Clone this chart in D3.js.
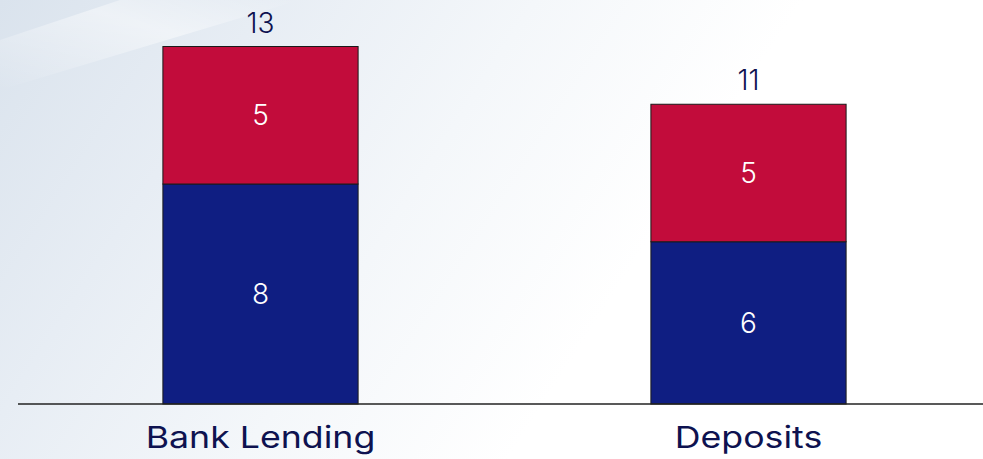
<!DOCTYPE html>
<html><head><meta charset="utf-8">
<script src="https://cdn.jsdelivr.net/npm/d3@7"></script>
<style>html,body{margin:0;padding:0;background:#fff;}svg{display:block;}</style>
</head><body>
<svg id="c" width="983" height="459"></svg>
<script>
const categories = ["Bank Lending", "Deposits"];
const seriesNames = ["Base", "Additional"];
const baseValues = [8, 5.9];
const addValues = [5, 5];
const colors = ["#0F1E82", "#C20C3B"];

const W = 983, H = 459;
const svg = d3.select("#c");
const defs = svg.append("defs");
const g1 = defs.append("linearGradient").attr("id","bg").attr("x1","0").attr("x2","1").attr("y1","0").attr("y2","0.3");
g1.append("stop").attr("offset","0").attr("stop-color","#dae3ed");
g1.append("stop").attr("offset","0.25").attr("stop-color","#e7edf4");
g1.append("stop").attr("offset","0.5").attr("stop-color","#f4f7fa");
g1.append("stop").attr("offset","0.75").attr("stop-color","#ffffff");
svg.append("rect").attr("width",W).attr("height",H).attr("fill","url(#bg)");
const g2 = defs.append("linearGradient").attr("id","hl").attr("x1","0").attr("x2","1").attr("y1","1").attr("y2","0");
g2.append("stop").attr("offset","0").attr("stop-color","#ffffff").attr("stop-opacity",0);
g2.append("stop").attr("offset","0.6").attr("stop-color","#ffffff").attr("stop-opacity",0.45);
g2.append("stop").attr("offset","1").attr("stop-color","#ffffff").attr("stop-opacity",0);
svg.append("path").attr("d","M0,90 L0,40 L120,0 L300,0 Z").attr("fill","url(#hl)");

const x = d3.scaleBand().domain(categories).range([16.5, 992.5]).paddingInner(0.6).paddingOuter(0.3);
const y = d3.scaleLinear().domain([0, 14]).range([404, 19]);

const data = categories.map((c,i)=>({cat:c, Base:baseValues[i], Additional:addValues[i]}));
const stack = d3.stack().keys(seriesNames)(data);

const font = "'Inter', 'Noto Sans', sans-serif";
const textColor = "#0E1250";
const stretch = 1.19;

svg.append("g").selectAll("g").data(stack).join("g")
  .attr("fill",(d,i)=>colors[i])
  .selectAll("rect").data(d=>d).join("rect")
  .attr("x",d=>x(d.data.cat)).attr("width",x.bandwidth())
  .attr("y",d=>y(d[1])).attr("height",d=>y(d[0])-y(d[1]))
  .attr("stroke","#1a1a1a").attr("stroke-width",1);

// segment labels
svg.append("g").selectAll("g").data(stack).join("g")
  .selectAll("text").data(d=>d).join("text")
  .attr("x",d=>x(d.data.cat)+x.bandwidth()/2)
  .attr("y",d=>(y(d[0])+y(d[1]))/2)
  .attr("dy","0.36em").attr("text-anchor","middle")
  .attr("fill","#fff").attr("font-family",font).attr("font-size",28).attr("font-weight",300)
  .text(d=>Math.round(d[1]-d[0]));

// totals
svg.append("g").selectAll("text").data(data).join("text")
  .attr("x",d=>x(d.cat)+x.bandwidth()/2)
  .attr("y",d=>y(d.Base+d.Additional)-14)
  .attr("text-anchor","middle").attr("fill",textColor)
  .attr("font-family",font).attr("font-size",28).attr("font-weight",300)
  .text(d=>Math.round(d.Base+d.Additional));

// axis
const ax = svg.append("g").attr("transform","translate(0,404)")
  .call(d3.axisBottom(x).tickSize(0).tickPadding(23));
ax.select(".domain").attr("d","M18,0H983").attr("stroke","#222").attr("stroke-width",1.5);
ax.selectAll("text").attr("font-family",font).attr("font-size",30).attr("font-weight",400).attr("fill",textColor).attr("dy","0.71em")
  .each(function(){ const w = this.getComputedTextLength(); d3.select(this).attr("textLength", w*stretch).attr("lengthAdjust","spacingAndGlyphs"); });
</script>
</body></html>
